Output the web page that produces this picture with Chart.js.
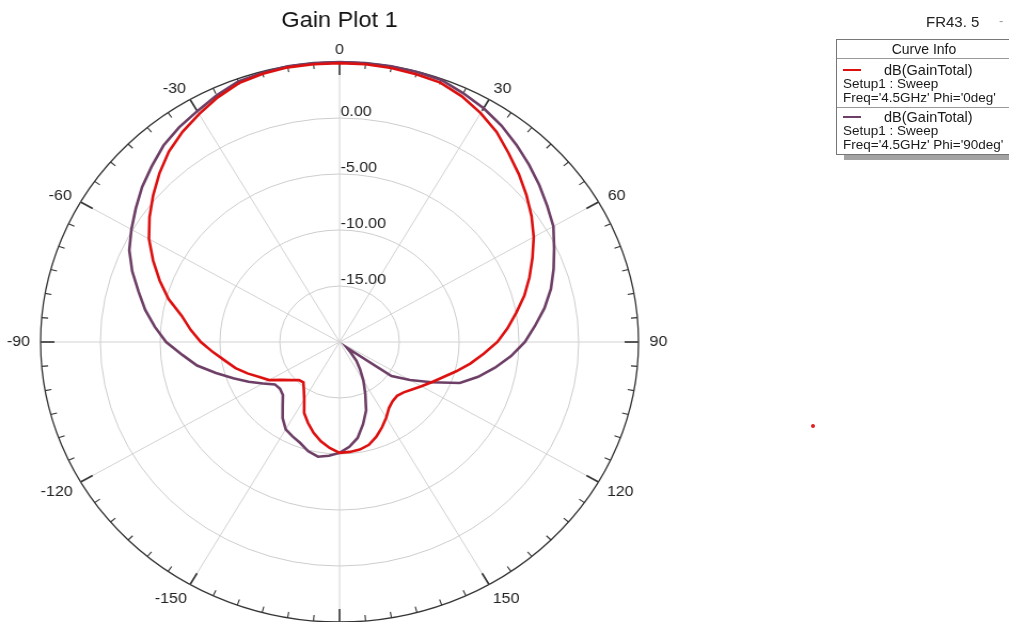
<!DOCTYPE html>
<html><head><meta charset="utf-8">
<script src="https://cdn.jsdelivr.net/npm/chart.js@4.4.1/dist/chart.umd.min.js"></script>
<style>
html,body{margin:0;padding:0;background:#fff;overflow:hidden;width:1009px;height:622px;}
#wrap{position:absolute;left:0;top:0;width:945px;height:700px;transform:scaleX(1.0677);transform-origin:0 0;}
#fr{position:absolute;left:926px;top:13px;font:15px "Liberation Sans",Arial,sans-serif;color:#222;white-space:nowrap;}
#dash{position:absolute;left:999px;top:13px;font:13px "Liberation Sans",Arial,sans-serif;color:#999;}
#legend{position:absolute;left:836px;top:39px;width:174px;border:1px solid #777;background:#fff;font-family:"Liberation Sans",Arial,sans-serif;color:#1a1a1a;box-shadow:8px 5px 0 #a3a3a3;}
#legend .hdr{height:18px;line-height:18px;text-align:center;font-size:14px;border-bottom:1px solid #999;}
#legend .ent{font-size:13.5px;line-height:14px;padding:4px 0 2px 6px;white-space:nowrap;overflow:hidden;}
#legend .ent > div{height:14px;}
#legend .ent + .ent{border-top:1px solid #999;padding-top:2px;padding-bottom:2px;}
#legend .nm{font-size:14.5px;}
#legend .sw{display:inline-block;width:18px;height:2px;vertical-align:middle;margin-right:23px;position:relative;top:-1px;}
#dot{position:absolute;left:811px;top:424px;width:4px;height:4px;border-radius:2px;background:#e02020;}
</style></head>
<body>
<div id="wrap"><canvas id="c" width="945" height="700"></canvas></div>
<div id="fr">FR43. 5</div><div id="dash">-</div>
<div id="legend">
  <div class="hdr">Curve Info</div>
  <div class="ent"><div><span class="sw" style="background:#dd1010"></span><span class="nm">dB(GainTotal)</span></div><div>Setup1 : Sweep</div><div>Freq='4.5GHz' Phi='0deg'</div></div>
  <div class="ent"><div><span class="sw" style="background:#6e3f66"></span><span class="nm">dB(GainTotal)</span></div><div>Setup1 : Sweep</div><div>Freq='4.5GHz' Phi='90deg'</div></div>
</div>
<div id="dot"></div>
<script>
// Theta angles (deg), clockwise from top
const angleDeg = [0,5,10,15,20,25,30,35,40,45,50,55,60,65,70,75,80,85,90,95,100,105,110,115,120,125,130,135,140,145,150,155,160,165,170,175,180,
  -175,-170,-165,-160,-155,-150,-145,-140,-135,-130,-125,-120,-115,-110,-105,-100,-95,-90,-85,-80,-75,-70,-65,-60,-55,-50,-45,-40,-35,-30,-25,-20,-15,-10,-5];
// dB(GainTotal), Phi = 0deg
const gainPhi0 = [4.9,4.9,4.85,4.75,4.65,4.2,3.6,2.9,2.0,1.2,0.4,-0.4,-1.25,-2.2,-3.1,-4.0,-5.0,-5.9,-6.8,-7.9,-8.9,-9.9,-10.8,-11.5,-12.1,-12.6,-13.0,-13.2,-13.1,-12.8,-12.2,-11.6,-11.0,-10.5,-10.25,-10.15,-10.1,
  -10.5,-11.0,-11.6,-12.3,-13.0,-14.1,-14.8,-15.3,-15.2,-14.7,-14.1,-13.2,-12.6,-11.8,-11.0,-10.3,-9.4,-8.4,-7.5,-6.6,-5.2,-4.0,-2.8,-1.6,-0.6,0.35,1.3,2.2,2.9,3.5,4.1,4.6,4.8,4.9,4.9];
// dB(GainTotal), Phi = 90deg
const gainPhi90 = [5.0,5.0,5.0,4.95,4.9,4.5,4.1,3.6,3.0,2.4,1.8,1.2,0.65,-0.2,-0.95,-1.7,-2.6,-3.6,-4.5,-5.6,-6.8,-8.0,-9.3,-11.5,-13.2,-14.7,-19.2,-18.7,-17.8,-17.0,-16.0,-14.9,-13.5,-12.4,-11.3,-10.6,-10.1,
  -9.8,-9.6,-9.9,-10.4,-10.7,-11.0,-11.7,-12.6,-13.3,-13.5,-13.4,-12.6,-11.6,-10.55,-9.3,-7.9,-6.8,-5.5,-4.5,-3.5,-2.6,-1.55,-0.6,0.1,0.8,1.55,2.2,2.9,3.4,3.8,4.3,4.75,4.9,5.0,5.0];
const ringValues = [-15,-10,-5,0];
const angleTickLabels = [0,30,60,90,120,150,-150,-120,-90,-60,-30];
const rMin = -20, rMax = 5;

const FONT = '"Liberation Sans", Arial, sans-serif';

const polarDecor = {
  id: 'polarDecor',
  beforeDatasetsDraw(chart) {
    const s = chart.scales.r, ctx = chart.ctx, R = s.drawingArea;
    ctx.save();
    ctx.strokeStyle = '#333';
    for (let i = 0; i < angleDeg.length; i++) {
      const major = angleDeg[i] % 30 === 0;
      const len = major ? 13 : 6;
      const p1 = s.getPointPosition(i, R), p2 = s.getPointPosition(i, R - len);
      ctx.lineWidth = major ? 1.6 : 1.1;
      ctx.beginPath(); ctx.moveTo(p1.x, p1.y); ctx.lineTo(p2.x, p2.y); ctx.stroke();
    }
    ctx.fillStyle = '#222';
    ctx.font = '15px ' + FONT;
    ctx.textAlign = 'left'; ctx.textBaseline = 'alphabetic';
    ringValues.forEach(v => {
      const p = s.getPointPositionForValue(0, v);
      ctx.fillText(v.toFixed(2), p.x + 1, p.y - 2);
    });
    ctx.textAlign = 'center'; ctx.textBaseline = 'middle';
    angleTickLabels.forEach(a => {
      const i = angleDeg.indexOf(a);
      const th = a * Math.PI / 180;
      const w = ctx.measureText(String(a)).width;
      const p = s.getPointPosition(i, R + 12);
      const sx = Math.sign(Math.round(Math.sin(th) * 1000)) * 0.4 * w;
      const sy = Math.cos(th) < -0.1 ? 4 : 0;
      ctx.fillText(String(a), p.x + sx, p.y + sy);
    });
    ctx.restore();
  }
};

new Chart(document.getElementById('c'), {
  type: 'radar',
  data: {
    labels: angleDeg.map(String),
    datasets: [
      { label: "dB(GainTotal) Phi='0deg'", data: gainPhi0, borderColor: '#dd1010', borderWidth: 2.6, pointRadius: 0, fill: false, tension: 0 },
      { label: "dB(GainTotal) Phi='90deg'", data: gainPhi90, borderColor: '#6e3f66', borderWidth: 2.6, pointRadius: 0, fill: false, tension: 0 }
    ]
  },
  options: {
    responsive: false,
    animation: false,
    devicePixelRatio: 1,
    layout: { padding: { left: 37, right: 346, top: 0, bottom: 77 } },
    plugins: {
      legend: { display: false },
      tooltip: { enabled: false },
      title: { display: true, text: 'Gain Plot 1', color: '#111', font: { size: 22, family: FONT, weight: 'normal' }, padding: { top: 8, bottom: 27 } }
    },
    scales: {
      r: {
        min: rMin, max: rMax,
        startAngle: 0,
        ticks: { display: false, stepSize: 5 },
        grid: { circular: true, color: c => (c.tick && c.tick.value === rMax) ? '#333' : '#cdcdcd', lineWidth: c => (c.tick && c.tick.value === rMax) ? 1.3 : 1 },
        angleLines: { display: true, color: '#d2d2d2', lineWidth: c => (angleDeg[c.index] % 30 === 0) ? 1 : 0 },
        pointLabels: { display: false }
      }
    }
  },
  plugins: [polarDecor]
});
</script>
</body></html>
